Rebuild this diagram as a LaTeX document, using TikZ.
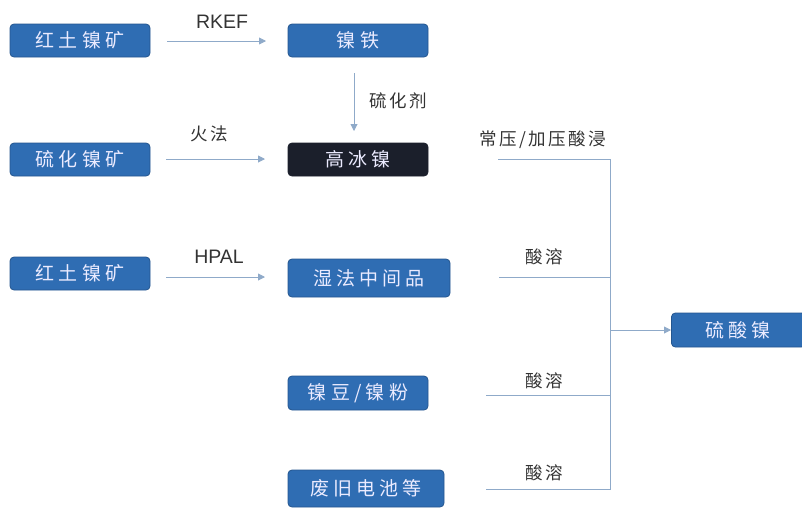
\documentclass[tikz,border=0pt]{standalone}
\usepackage{fontspec}
\setmainfont{Liberation Sans}
\newfontfamily\cjk{Noto Sans CJK SC}
\newfontfamily\cjkw[LetterSpace=22]{Noto Sans CJK SC}
\newfontfamily\cjkl[LetterSpace=14]{Noto Sans CJK SC}
\usetikzlibrary{arrows.meta}
\definecolor{boxblue}{HTML}{2F6DB3}
\definecolor{boxedge}{HTML}{24568F}
\definecolor{darkbox}{HTML}{1B1F2B}
\definecolor{linec}{HTML}{8FAAC9}
\definecolor{labc}{HTML}{333333}
\begin{document}
\begin{tikzpicture}[x=1pt,y=-1pt,
  bluebox/.style={draw=boxedge,line width=0.8pt,fill=boxblue,rounded corners=4pt,
    text=white!92!blue,font=\cjkw\fontsize{19}{19}\selectfont,inner sep=0pt},
  lab/.style={text=labc,font=\cjkl\fontsize{17.5}{17.5}\selectfont,inner sep=0pt},
  latin/.style={text=labc,font=\fontsize{19.5}{19.5}\selectfont,inner sep=0pt},
  conn/.style={draw=linec,line width=0.9pt},
  arr/.style={conn,-{Triangle[length=7pt,width=7pt]}}]
\useasboundingbox (0,0) rectangle (802,507);
% boxes
\node[bluebox,minimum width=140pt,minimum height=33pt] (a1) at (80,40.5) {红土镍矿};
\node[bluebox,minimum width=140pt,minimum height=33pt] (b1) at (358,40.5) {镍铁};
\node[bluebox,minimum width=140pt,minimum height=33pt] (a2) at (80,159.5) {硫化镍矿};
\node[bluebox,fill=darkbox,draw=darkbox,minimum width=140pt,minimum height=33pt] (b2) at (358,159.5) {高冰镍};
\node[bluebox,minimum width=140pt,minimum height=33pt] (a3) at (80,273.5) {红土镍矿};
\node[bluebox,minimum width=162pt,minimum height=38pt] (b3) at (369,278) {湿法中间品};
\node[bluebox,minimum width=140pt,minimum height=34pt] (b4) at (358,393) {镍豆/镍粉};
\node[bluebox,minimum width=156pt,minimum height=37pt] (b5) at (366,488.5) {废旧电池等};
\node[bluebox,minimum width=134pt,minimum height=34pt,anchor=west,text width=134pt,align=left] (c) at (671,330) {\hspace*{34pt}硫酸镍};
% left arrows
\coordinate (s1) at (167,41); \coordinate (e1) at (266,41);
\draw[arr] (s1) -- (e1);
\node[latin] (l1) at (222,22) {RKEF};
\coordinate (s2) at (166,159); \coordinate (e2) at (265,159);
\draw[arr] (s2) -- (e2);
\node[lab] (l2) at (209,134) {火法};
\coordinate (s3) at (166,277); \coordinate (e3) at (265,277);
\draw[arr] (s3) -- (e3);
\node[latin] (l3) at (219,257) {HPAL};
\coordinate (sv) at (354,73); \coordinate (ev) at (354,131);
\draw[arr] (sv) -- (ev);
\node[lab] (l4) at (398,101) {硫化剂};
% right collector
\coordinate (r1) at (498,159); \coordinate (j1) at (610,159);
\coordinate (r2) at (499,277); \coordinate (j2) at (610,277);
\coordinate (r3) at (486,395); \coordinate (j3) at (610,395);
\coordinate (r4) at (486,489); \coordinate (j4) at (610,489);
\coordinate (jm) at (610,330);
\draw[conn] (r1) -- (j1) -- (j4) -- (r4);
\draw[conn] (r2) -- (j2);
\draw[conn] (r3) -- (j3);
\draw[arr] (jm) -- (c.west);
\node[lab] (m1) at (543,140) {常压/加压酸浸};
\node[lab] (m2) at (544,257) {酸溶};
\node[lab] (m3) at (544,381) {酸溶};
\node[lab] (m4) at (544,473) {酸溶};
\end{tikzpicture}
\end{document}
